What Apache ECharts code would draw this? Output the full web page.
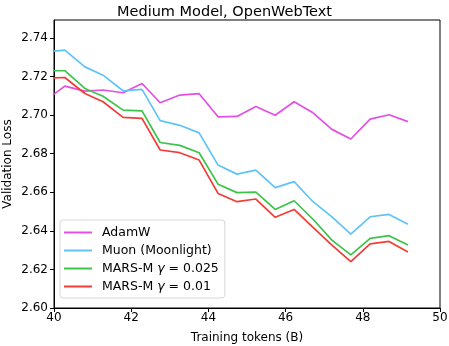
<!DOCTYPE html>
<html>
<head>
<meta charset="utf-8">
<script src="https://cdn.jsdelivr.net/npm/echarts@6/dist/echarts.min.js"></script>
<style>
  html, body { margin: 0; padding: 0; background: #fff; }
  #chart { width: 449px; height: 346px; }
</style>
</head>
<body>
<div id="chart"></div>
<script>
// training tokens (B) of each eval point
var tokens = [40.0, 40.28, 40.8, 41.27, 41.79, 42.28, 42.75, 43.26, 43.76, 44.25,
  44.74, 45.23, 45.73, 46.22, 46.71, 47.2, 47.69, 48.19, 48.68, 49.17];

var adamw = [2.7109, 2.7150, 2.7124, 2.7130, 2.7116, 2.7164, 2.7064, 2.7104, 2.7111, 2.6991,
  2.6993, 2.7045, 2.6999, 2.7069, 2.7012, 2.6926, 2.6876, 2.6979, 2.7002, 2.6966];
var muon = [2.7332, 2.7337, 2.7250, 2.7207, 2.7126, 2.7133, 2.6971, 2.6947, 2.6908, 2.6741,
  2.6694, 2.6715, 2.6624, 2.6655, 2.6551, 2.6472, 2.6383, 2.6473, 2.6485, 2.6434];
var marsBig = [2.7230, 2.7230, 2.7138, 2.7098, 2.7026, 2.7022, 2.6858, 2.6843, 2.6805, 2.6642,
  2.6598, 2.6601, 2.6511, 2.6556, 2.6460, 2.6352, 2.6275, 2.6361, 2.6375, 2.6326];
var marsSmall = [2.7193, 2.7195, 2.7112, 2.7069, 2.6988, 2.6983, 2.6819, 2.6805, 2.6767, 2.6594,
  2.6551, 2.6565, 2.6470, 2.6511, 2.6418, 2.6326, 2.6240, 2.6332, 2.6345, 2.6290];

var seriesNames = ["AdamW", "Muon (Moonlight)", "MARS-M γ = 0.025", "MARS-M γ = 0.01"];
var seriesColors = ["#e34fe3", "#5ec4f7", "#3cc44a", "#f23d36"];

var yTicks = [2.60, 2.62, 2.64, 2.66, 2.68, 2.70, 2.72, 2.74];
var xTicks = [40, 42, 44, 46, 48, 50];

var font = "DejaVu Sans";

function pairs(vals) {
  return vals.map(function(v, i) { return [tokens[i], v]; });
}

var myChart = echarts.init(document.getElementById("chart"));

var allVals = [adamw, muon, marsBig, marsSmall];
var series = allVals.map(function(vals, i) {
  return {
    name: seriesNames[i],
    type: "line",
    data: pairs(vals),
    showSymbol: false,
    symbol: "none",
    color: seriesColors[i],
    lineStyle: { width: 1.7, color: seriesColors[i] },
    animation: false
  };
});

var option = {
  animation: false,
  title: {
    text: "Medium Model, OpenWebText",
    left: "center",
    top: 0,
    textStyle: { fontFamily: font, fontSize: 14.5, fontWeight: "normal", color: "#000" }
  },
  grid: {
    left: 54, right: 9, top: 20, bottom: 38,
    outerBoundsMode: "none",
    show: true, borderColor: "#000", borderWidth: 1, backgroundColor: "transparent"
  },
  legend: {
    orient: "vertical",
    left: 60,
    top: 220,
    icon: "rect",
    itemWidth: 28,
    itemHeight: 2,
    itemGap: 5,
    padding: [6, 6, 5, 4],
    borderColor: "#d6d6d6",
    borderWidth: 1,
    borderRadius: 3,
    backgroundColor: "#fff",
    data: seriesNames,
    formatter: function(name) {
      var m = name.match(/^(MARS-M) γ (= .*)$/);
      if (m) return "{t|" + m[1] + " }{g|γ}{t| " + m[2] + "}";
      return "{t|" + name + "}";
    },
    textStyle: {
      fontFamily: font, fontSize: 12.5, color: "#000",
      padding: [0, 0, 0, 5],
      rich: {
        t: { fontFamily: font, fontSize: 12.5, color: "#000", lineHeight: 14 },
        g: { fontFamily: font, fontSize: 12.5, color: "#000", fontStyle: "italic", lineHeight: 14 }
      }
    }
  },
  xAxis: {
    type: "value",
    min: 40, max: 50, interval: 2,
    name: "Training tokens (B)",
    nameLocation: "middle",
    nameGap: 24,
    nameMoveOverlap: false,
    nameTextStyle: { fontFamily: font, fontSize: 12, color: "#000" },
    axisLine: { lineStyle: { color: "#000", width: 1 } },
    axisTick: { show: true, length: 4, lineStyle: { color: "#000" }, customValues: xTicks },
    axisLabel: { fontFamily: font, fontSize: 12, color: "#000", margin: 4, customValues: xTicks },
    splitLine: { show: false }
  },
  yAxis: {
    type: "value",
    min: 2.60, max: 2.7493,
    name: "Validation Loss",
    nameLocation: "middle",
    nameGap: 40,
    nameMoveOverlap: false,
    nameTextStyle: { fontFamily: font, fontSize: 12, color: "#000" },
    axisLine: { show: true, lineStyle: { color: "#000", width: 1 } },
    axisTick: { show: true, length: 4, lineStyle: { color: "#000" }, customValues: yTicks },
    axisLabel: {
      fontFamily: font, fontSize: 12, color: "#000", margin: 6,
      customValues: yTicks,
      formatter: function(v) { return v.toFixed(2); }
    },
    splitLine: { show: false }
  },
  series: series
};

myChart.setOption(option);
</script>
</body>
</html>
